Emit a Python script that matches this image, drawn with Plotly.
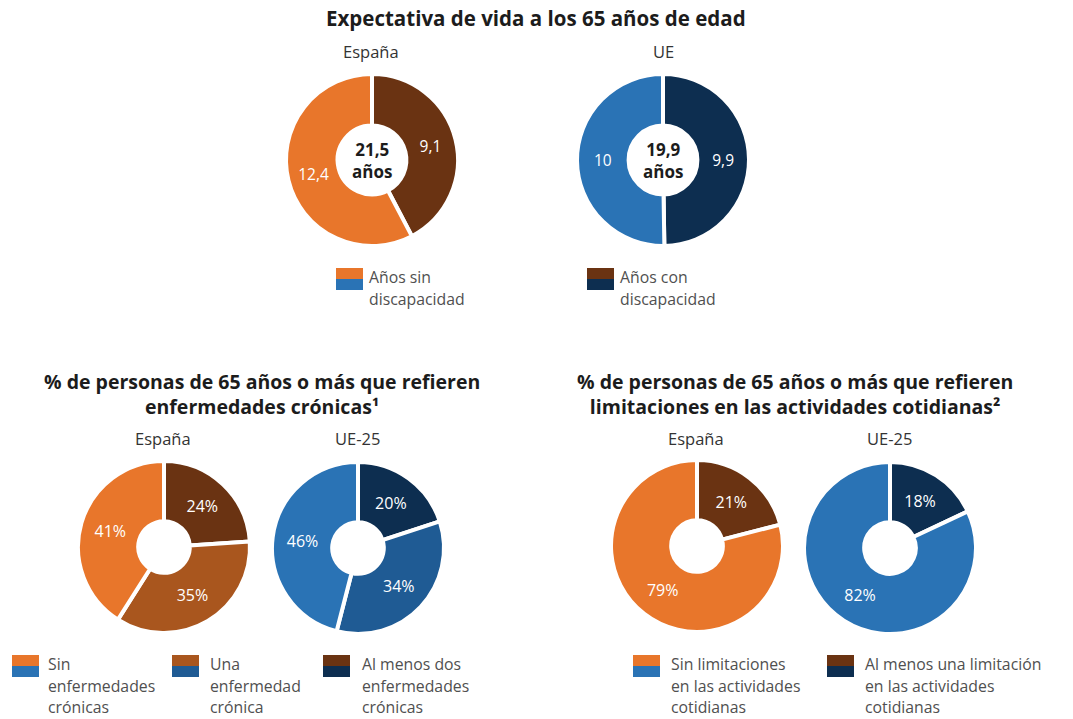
import plotly.graph_objects as go

W, H = 1073, 719

# --- data ---------------------------------------------------------------
vida_labels = ["Años con discapacidad", "Años sin discapacidad"]
vida_espana = [9.1, 12.4]
vida_ue = [9.9, 10.0]

cron_labels = ["Al menos dos enfermedades crónicas", "Una enfermedad crónica", "Sin enfermedades crónicas"]
cron_espana = [24, 35, 41]
cron_ue25 = [20, 34, 46]

lim_labels = ["Al menos una limitación en las actividades cotidianas", "Sin limitaciones en las actividades cotidianas"]
lim_espana = [21, 79]
lim_ue25 = [18, 82]

# --- palette --------------------------------------------------------------
ORANGE, MIDBROWN, BROWN = "#E8762B", "#A9561E", "#6A3312"
BLUE, MIDBLUE, NAVY = "#2A73B5", "#1F5B94", "#0D2E50"

FONT = "Open Sans"
TXT = "#1c1c1c"
GRAY = "#505050"


def fmt(v):
    s = f"{v:.1f}".rstrip("0").rstrip(".")
    return s.replace(".", ",")


def dom(cx, cy, r):
    return dict(x=[(cx - r) / W, (cx + r) / W], y=[1 - (cy + r) / H, 1 - (cy - r) / H])


fig = go.Figure()


def donut(values, labels, colors, cx, cy, r, hole, texts, size=16):
    fig.add_trace(go.Pie(
        values=values, labels=labels, text=texts, textinfo="text",
        texttemplate="%{text}", textposition="inside",
        insidetextorientation="horizontal",
        hole=hole, sort=False, direction="clockwise", rotation=0,
        marker=dict(colors=colors, line=dict(color="white", width=4)),
        textfont=dict(color="white", size=size, family=FONT),
        domain=dom(cx, cy, r), showlegend=False, hoverinfo="label+value",
    ))


# top: life expectancy at 65
donut(vida_espana, vida_labels, [BROWN, ORANGE], 372, 160, 86, 0.4,
      [fmt(v) for v in vida_espana], size=15.5)
donut(vida_ue, vida_labels, [NAVY, BLUE], 663, 160, 86, 0.4,
      [fmt(v) for v in vida_ue], size=15.5)

# bottom left: chronic diseases
donut(cron_espana, cron_labels, [BROWN, MIDBROWN, ORANGE], 164, 547, 86, 0.3,
      [f"{v}%" for v in cron_espana])
donut(cron_ue25, cron_labels, [NAVY, MIDBLUE, BLUE], 358, 548, 86, 0.3,
      [f"{v}%" for v in cron_ue25])

# bottom right: daily-activity limitations
donut(lim_espana, lim_labels, [BROWN, ORANGE], 697, 546, 86, 0.3,
      [f"{v}%" for v in lim_espana])
donut(lim_ue25, lim_labels, [NAVY, BLUE], 890, 548, 86, 0.3,
      [f"{v}%" for v in lim_ue25])

annotations = []
shapes = []


def text(x, y, s, size=15, color=GRAY, bold=False, align="center", xanchor="center"):
    if bold:
        s = f"<b>{s}</b>"
    annotations.append(dict(
        x=x / W, y=1 - y / H, xref="paper", yref="paper", text=s, showarrow=False,
        xanchor=xanchor, yanchor="middle", align=align,
        font=dict(family=FONT, size=size, color=color),
    ))


# titles
TS = 19.5
text(536, 18, "Expectativa de vida a los 65 años de edad", size=20.5, color=TXT, bold=True)
text(262, 394, "% de personas de 65 años o más que refieren<br>enfermedades crónicas¹",
     size=TS, color=TXT, bold=True)
text(795, 394, "% de personas de 65 años o más que refieren<br>limitaciones en las actividades cotidianas²",
     size=TS, color=TXT, bold=True)

# panel subtitles
SS = 16.5
text(371, 52, "España", size=SS, color="#333333")
text(663, 52, "UE", size=SS, color="#333333")
text(163, 439, "España", size=SS, color="#333333")
text(357, 439, "UE-25", size=SS, color="#333333")
text(696, 439, "España", size=SS, color="#333333")
text(889, 439, "UE-25", size=SS, color="#333333")

# totals in the holes of the top donuts
text(372, 160, f"{fmt(sum(vida_espana))}<br>años", size=17, color=TXT, bold=True)
text(663, 160, f"{fmt(sum(vida_ue))}<br>años", size=17, color=TXT, bold=True)


def key(x0, y0, top, bottom, label, tx):
    w, h = 27, 22
    shapes.append(dict(type="rect", xref="paper", yref="paper", line=dict(width=0),
                       x0=x0 / W, x1=(x0 + w) / W, y0=1 - (y0 + h / 2) / H, y1=1 - y0 / H,
                       fillcolor=top))
    shapes.append(dict(type="rect", xref="paper", yref="paper", line=dict(width=0),
                       x0=x0 / W, x1=(x0 + w) / W, y0=1 - (y0 + h) / H, y1=1 - (y0 + h / 2) / H,
                       fillcolor=bottom))
    lines = label.split("\n")
    for i, ln in enumerate(lines):
        text(tx, y0 + 9 + i * 21.5, ln, size=15.8, color=GRAY, xanchor="left", align="left")


key(336, 268, ORANGE, BLUE, "Años sin\ndiscapacidad", 367)
key(587, 268, BROWN, NAVY, "Años con\ndiscapacidad", 618)

key(12, 655, ORANGE, BLUE, "Sin\nenfermedades\ncrónicas", 46)
key(172, 655, MIDBROWN, MIDBLUE, "Una\nenfermedad\ncrónica", 208)
key(323, 655, BROWN, NAVY, "Al menos dos\nenfermedades\ncrónicas", 360)

key(633, 655, ORANGE, BLUE, "Sin limitaciones\nen las actividades\ncotidianas", 669)
key(827, 655, BROWN, NAVY, "Al menos una limitación\nen las actividades\ncotidianas", 863)

fig.update_layout(
    width=W, height=H, margin=dict(l=0, r=0, t=0, b=0),
    paper_bgcolor="white", plot_bgcolor="white",
    annotations=annotations, shapes=shapes,
    font=dict(family=FONT),
)

fig.write_html("out.html")
